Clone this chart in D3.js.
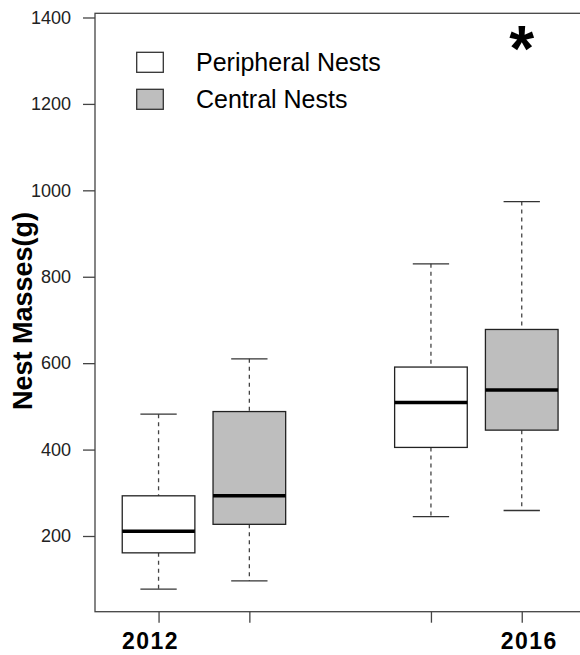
<!DOCTYPE html>
<html>
<head>
<meta charset="utf-8">
<script src="https://cdn.jsdelivr.net/npm/d3@7"></script>
<style>
  body { margin: 0; background: #fff; }
  svg { display: block; font-family: "Liberation Sans", Arial, sans-serif; }
</style>
</head>
<body>
<div id="chart"></div>
<script>
// data
const years = ['2012', '2016'];
const seriesNames = ['Peripheral Nests', 'Central Nests'];
const seriesFills = ['#ffffff', '#bebebe'];
// [lower whisker, Q1, median, Q3, upper whisker] per year
const peripheralStats = [[77, 161, 211, 293, 482], [245, 405, 509, 591, 830]];
const centralStats = [[96, 227, 293, 488, 610], [259, 445, 538, 678, 974]];
const yTicks = [200, 400, 600, 800, 1000, 1200, 1400];
const xTickPos = [1, 2, 4, 5];
const xTickLabels = ['2012', '', '', '2016'];

const width = 580, height = 655;
const font = '"Liberation Sans", Arial, sans-serif';
const svg = d3.select('#chart').append('svg')
  .attr('width', width).attr('height', height);

// scales (R style: positions 1,2 and 4,5, 4% padding)
const x = d3.scaleLinear().domain([0.3, 5.7]).range([95, 585.3]);
const y = d3.scaleLinear().domain([24.8, 1409.7]).range([611.7, 13.3]);

const boxes = [];
years.forEach((yr, i) => {
  boxes.push({ pos: i * 3 + 1, s: peripheralStats[i], fill: seriesFills[0] });
  boxes.push({ pos: i * 3 + 2, s: centralStats[i], fill: seriesFills[1] });
});

// frame
svg.append('rect')
  .attr('x', x(0.3)).attr('y', y(1409.7))
  .attr('width', x(5.7) - x(0.3)).attr('height', y(24.8) - y(1409.7))
  .attr('fill', 'none').attr('stroke', '#444').attr('stroke-width', 1.3);

// y axis
const yAxis = svg.append('g')
  .attr('transform', `translate(${x(0.3)},0)`)
  .call(d3.axisLeft(y).tickValues(yTicks).tickFormat(d3.format('d'))
    .tickSize(12).tickPadding(12));
yAxis.attr('font-family', font);
yAxis.select('.domain').remove();
yAxis.selectAll('line').attr('stroke', '#444').attr('stroke-width', 1.3);
yAxis.selectAll('text').attr('fill', '#222').style('font-size', '18px');

// x axis
const xAxis = svg.append('g')
  .attr('transform', `translate(0,${y(24.8)})`)
  .call(d3.axisBottom(x).tickValues(xTickPos)
    .tickFormat((d, i) => xTickLabels[i]).tickSize(11).tickPadding(4));
xAxis.attr('font-family', font);
xAxis.select('.domain').remove();
xAxis.selectAll('line').attr('stroke', '#444').attr('stroke-width', 1.3);
xAxis.selectAll('text')
  .attr('fill', '#000')
  .style('font-size', '23px').style('font-weight', 'bold')
  .style('letter-spacing', '1.5px')
  .attr('y', 0).attr('dy', 0)
  .attr('transform', 'translate(0,37)')
  .attr('dx', (d, i) => i === 0 ? -8.5 : (i === 3 ? 7 : 0));

// y axis title
svg.append('text')
  .attr('transform', `translate(32,311) rotate(-90)`)
  .attr('text-anchor', 'middle')
  .style('font-size', '27px').style('font-weight', 'bold')
  .text('Nest Masses(g)');

// boxes
const g = svg.selectAll('.box').data(boxes).enter().append('g').attr('class', 'box');
const bw = 0.4, cw = 0.2;

// whiskers
g.append('line')
  .attr('x1', d => x(d.pos)).attr('x2', d => x(d.pos))
  .attr('y1', d => y(d.s[4])).attr('y2', d => y(d.s[3]))
  .attr('stroke', '#444').attr('stroke-width', 1.3).attr('stroke-dasharray', '4,4');
g.append('line')
  .attr('x1', d => x(d.pos)).attr('x2', d => x(d.pos))
  .attr('y1', d => y(d.s[1])).attr('y2', d => y(d.s[0]))
  .attr('stroke', '#444').attr('stroke-width', 1.3).attr('stroke-dasharray', '4,4');
// caps
[0, 4].forEach(k => {
  g.append('line')
    .attr('x1', d => x(d.pos - cw)).attr('x2', d => x(d.pos + cw))
    .attr('y1', d => y(d.s[k])).attr('y2', d => y(d.s[k]))
    .attr('stroke', '#333').attr('stroke-width', 1.3);
});
// box
g.append('rect')
  .attr('x', d => x(d.pos - bw)).attr('width', d => x(d.pos + bw) - x(d.pos - bw))
  .attr('y', d => y(d.s[3])).attr('height', d => y(d.s[1]) - y(d.s[3]))
  .attr('fill', d => d.fill).attr('stroke', '#222').attr('stroke-width', 1.3);
// median
g.append('line')
  .attr('x1', d => x(d.pos - bw)).attr('x2', d => x(d.pos + bw))
  .attr('y1', d => y(d.s[2])).attr('y2', d => y(d.s[2]))
  .attr('stroke', '#000').attr('stroke-width', 3.5);

// legend
const legend = svg.append('g');
seriesNames.forEach((name, i) => {
  const cy = 62.3 + i * 37;
  legend.append('rect')
    .attr('x', 136.7).attr('y', cy - 10).attr('width', 26.6).attr('height', 20)
    .attr('fill', seriesFills[i]).attr('stroke', '#333').attr('stroke-width', 1.3);
  legend.append('text')
    .attr('x', 196).attr('y', cy + 9)
    .style('font-size', '25px').attr('fill', '#000')
    .text(name);
});

// significance marker
svg.append('text')
  .attr('x', x(5)).attr('y', 71)
  .attr('text-anchor', 'middle')
  .style('font-size', '64px').style('font-weight', 'bold')
  .text('*');
</script>
</body>
</html>
